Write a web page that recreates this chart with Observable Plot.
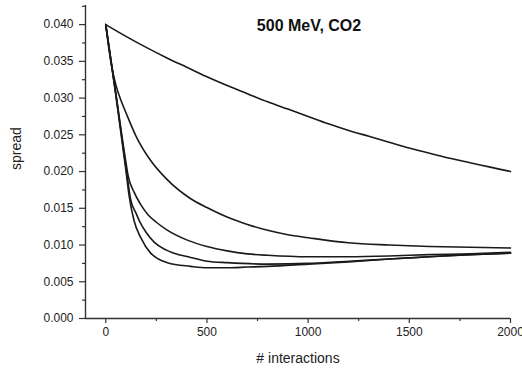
<!DOCTYPE html>
<html>
<head>
<meta charset="utf-8">
<script src="https://cdn.jsdelivr.net/npm/d3@7"></script>
<script src="https://cdn.jsdelivr.net/npm/@observablehq/plot@0.6"></script>
<style>
  html, body { margin: 0; padding: 0; background: #fff; }
  #chart svg { display: block; }
</style>
</head>
<body>
<div id="chart"></div>
<script>
const title = "500 MeV, CO2";
const xLabel = "# interactions";
const yLabel = "spread";

const xMajorTicks = [0, 500, 1000, 1500, 2000];
const xMinorTicks = [250, 750, 1250, 1750];
const yMajorTicks = [0, 0.005, 0.010, 0.015, 0.020, 0.025, 0.030, 0.035, 0.040];
const yMinorTicks = [0.0025, 0.0075, 0.0125, 0.0175, 0.0225, 0.0275, 0.0325, 0.0375, 0.0425];

const curve1X = [0, 100, 200, 300, 400, 500, 600, 700, 800, 900, 1000, 1100, 1200, 1300, 1400, 1500, 1600, 1700, 1800, 1900, 2000];
const curve1Y = [0.0400, 0.0384, 0.0369, 0.0355, 0.0342, 0.0329, 0.0317, 0.0306, 0.0295, 0.0285, 0.0275, 0.0265, 0.0256, 0.0248, 0.0240, 0.0232, 0.0225, 0.0218, 0.0212, 0.0206, 0.0200];

const curve2X = [0, 25, 50, 75, 100, 150, 222, 300, 420, 500, 600, 700, 800, 900, 1000, 1200, 1400, 1600, 1800, 2000];
const curve2Y = [0.0400, 0.0350, 0.0318, 0.0297, 0.0280, 0.0248, 0.0215, 0.0190, 0.0163, 0.0151, 0.0138, 0.0128, 0.0120, 0.0114, 0.0110, 0.0103, 0.0100, 0.0098, 0.0097, 0.0096];

const curve3X = [0, 50, 100, 110, 140, 173, 210, 250, 300, 400, 500, 600, 700, 800, 1000, 1200, 1400, 1600, 1800, 2000];
const curve3Y = [0.0400, 0.0306, 0.0212, 0.0195, 0.0172, 0.0155, 0.0141, 0.0131, 0.0121, 0.0107, 0.0098, 0.0092, 0.0088, 0.0086, 0.0084, 0.0084, 0.0085, 0.0087, 0.0088, 0.0090];

const curve4X = [0, 50, 100, 123, 150, 173, 200, 239, 300, 420, 500, 600, 800, 1000, 1200, 1400, 1600, 1800, 2000];
const curve4Y = [0.0400, 0.0305, 0.0206, 0.0162, 0.0143, 0.0129, 0.0117, 0.0104, 0.0093, 0.0083, 0.0078, 0.0076, 0.0074, 0.0075, 0.0078, 0.0081, 0.0084, 0.0087, 0.0089];

const curve5X = [0, 50, 100, 115, 140, 173, 222, 260, 305, 420, 500, 600, 700, 800, 1000, 1200, 1400, 1600, 1800, 2000];
const curve5Y = [0.0400, 0.0304, 0.0201, 0.0168, 0.0133, 0.0110, 0.0089, 0.0081, 0.0076, 0.0071, 0.0069, 0.0069, 0.0070, 0.0071, 0.0074, 0.0077, 0.0081, 0.0084, 0.0087, 0.0089];

const series = [
  [curve1X, curve1Y], [curve2X, curve2Y], [curve3X, curve3Y], [curve4X, curve4Y], [curve5X, curve5Y]
];
const data = series.flatMap(([xs, ys], k) => xs.map((x, i) => ({ s: k, x, y: ys[i] })));

const axisColor = "#333";
const lineColor = "#1a1a1a";

const chart = Plot.plot({
  width: 522,
  height: 372,
  marginLeft: 85,
  marginRight: 12,
  marginTop: 5,
  marginBottom: 54,
  style: { fontFamily: "'Liberation Sans', Arial, Helvetica, sans-serif", fontSize: "12px", color: "#222", background: "#fff" },
  x: { domain: [-100, 2000] },
  y: { domain: [0, 0.0426] },
  marks: [
    Plot.axisX(xMajorTicks, { tickSize: 5, tickPadding: 4, fontSize: 12, tickFormat: d => String(d), label: null, stroke: axisColor, strokeWidth: 1.2 }),
    Plot.axisX(xMinorTicks, { tickSize: 3, tickFormat: () => "", label: null, stroke: axisColor, strokeWidth: 1.2 }),
    Plot.axisY(yMajorTicks, { tickSize: 6, tickPadding: 6, fontSize: 12, tickFormat: d3.format(".3f"), label: null, stroke: axisColor, strokeWidth: 1.2 }),
    Plot.axisY(yMinorTicks, { tickSize: 3, tickFormat: () => "", label: null, stroke: axisColor, strokeWidth: 1.2 }),
    Plot.ruleX([-100], { stroke: axisColor, strokeWidth: 1.4 }),
    Plot.ruleY([0], { stroke: axisColor, strokeWidth: 1.4 }),
    Plot.line(data, { x: "x", y: "y", z: "s", stroke: lineColor, strokeWidth: 1.6, curve: "monotone-x" }),
    Plot.text([title], { frameAnchor: "top", dx: 11, dy: 20, fontSize: 16, fontWeight: "bold", fill: "#111", lineAnchor: "middle" }),
    Plot.text([xLabel], { frameAnchor: "bottom", dy: 40, fontSize: 14, fill: "#222", lineAnchor: "middle" }),
    Plot.text([yLabel], { frameAnchor: "left", dx: -69, dy: 8, rotate: -90, fontSize: 14, fill: "#222", lineAnchor: "middle" })
  ]
});
document.getElementById("chart").appendChild(chart);
</script>
</body>
</html>
